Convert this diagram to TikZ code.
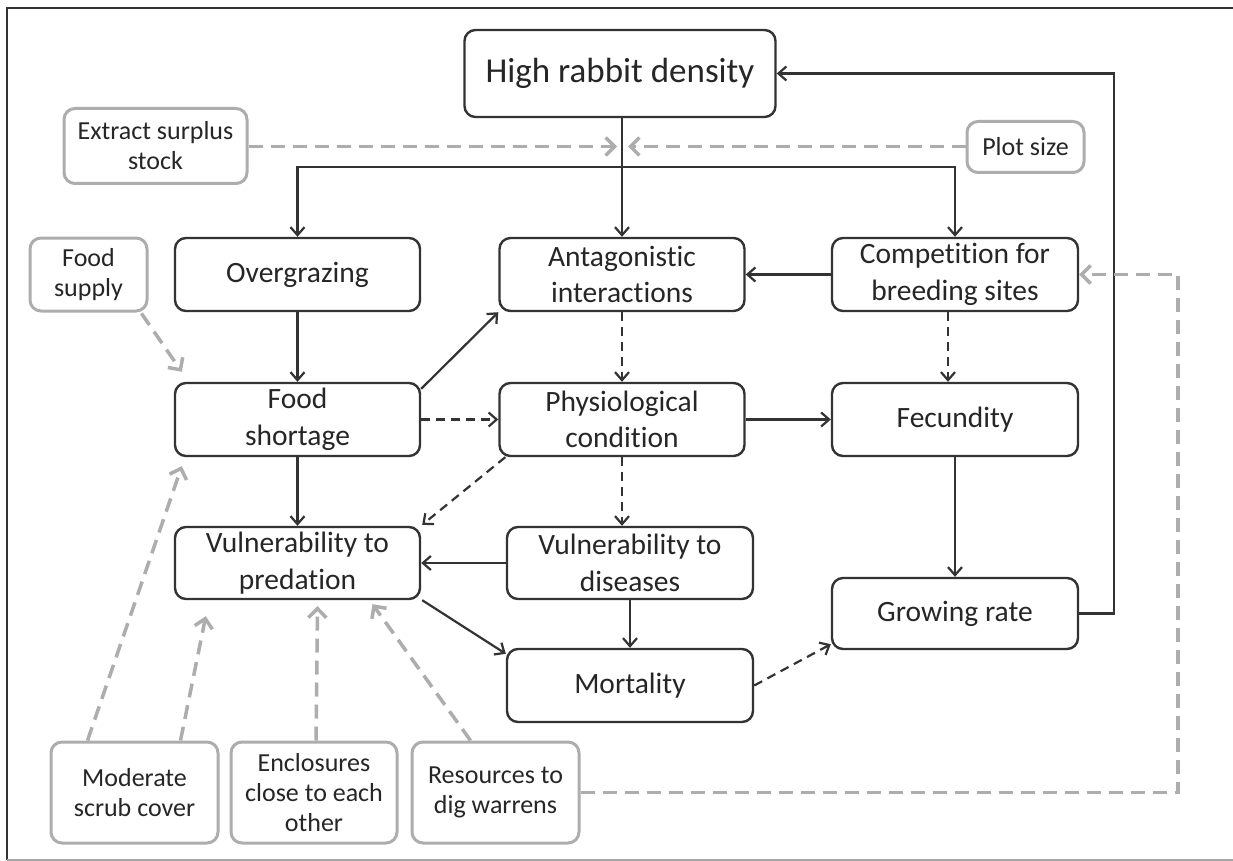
\documentclass[tikz,border=0pt]{standalone}
\usepackage{fontspec}
\setmainfont{Carlito}[Ligatures=NoCommon]
\usetikzlibrary{arrows.meta,calc}
\definecolor{dk}{HTML}{333333}
\definecolor{gr}{HTML}{ADADAD}
\definecolor{tx}{HTML}{262626}
\begin{document}
\begin{tikzpicture}[x=1pt,y=-1pt,
 bx/.style={draw=dk, line width=2.4pt, rounded corners=11pt, align=center, inner sep=0pt, text=tx, font=\fontsize{29.5}{36.5}\selectfont, minimum width=245pt, minimum height=73pt},
 gbx/.style={draw=gr, line width=3pt, rounded corners=11pt, align=center, inner sep=0pt, text=tx, font=\fontsize{26}{30}\selectfont},
 ln/.style={draw=dk, line width=2.2pt},
 ar/.style={ln, -{Straight Barb[length=8pt,width=14pt,line width=2.2pt]}},
 dar/.style={ar, dash pattern=on 9pt off 6pt},
 gar/.style={draw=gr, line width=3.5pt, dash pattern=on 14pt off 8pt, -{Straight Barb[length=9pt,width=18pt,line width=3.5pt]}},
]
\useasboundingbox (0,0) rectangle (1233,861);
\fill[white] (0,0) rectangle (1233,861);
\draw[dk, line width=2pt] (1233,8) -- (7,8) -- (7,860);
\draw[gray!70, line width=1.5pt] (7,860) -- (1233,860);

\node[bx, minimum width=311pt, minimum height=87pt, font=\fontsize{35}{42}\selectfont] (high) at (620,73.5) {High rabbit density};
\node[gbx, minimum width=183pt, minimum height=75pt] (extr) at (155.5,146) {Extract surplus\\stock};
\node[gbx, minimum width=117pt, minimum height=51pt] (plot) at (1025.5,147) {Plot size};
\node[bx] (over) at (297.5,274.5) {Overgrazing};
\node[bx] (antag) at (622,274.5) {Antagonistic\\interactions};
\node[bx, minimum width=246pt] (comp) at (955,274.5) {Competition for\\breeding sites};
\node[gbx, minimum width=117pt, minimum height=73pt] (fsup) at (88.5,274.5) {Food\\supply};
\node[bx] (food) at (297.5,419.5) {Food\\shortage};
\node[bx] (phys) at (622,419.5) {Physiological\\condition};
\node[bx, minimum width=246pt] (fec) at (955,419.5) {Fecundity};
\node[bx, minimum height=72pt] (vpred) at (297.5,563) {Vulnerability to\\predation};
\node[bx, minimum width=246pt, minimum height=72pt] (vdis) at (630,563) {Vulnerability to\\diseases};
\node[bx, minimum width=246pt] (mort) at (630,685.5) {Mortality};
\node[bx, minimum width=246pt, minimum height=71pt] (grow) at (955,613.5) {Growing rate};
\node[gbx, minimum width=167pt, minimum height=101pt] (mod) at (134.5,792.5) {Moderate\\scrub cover};
\node[gbx, minimum width=166pt, minimum height=101pt] (encl) at (314,792.5) {Enclosures\\close to each\\other};
\node[gbx, minimum width=167pt, minimum height=101pt] (res) at (495.5,792.5) {Resources to\\dig warrens};

% top distribution
\coordinate (j) at (622,167);
\draw[ln] (antag.north |- high.south) -- (j);
\draw[ar] (j) -- (antag.north);
\draw[ar] (j) -| (over.north);
\draw[ar] (j) -| (comp.north);
\coordinate (ea) at (617,146.5);
\coordinate (pa) at (628,146.5);
\draw[gar] (extr.east |- ea) -- (ea);
\draw[gar] (plot.west |- pa) -- (pa);

% feedback loop
\coordinate (lx) at (1114,0);
\draw[ar] (grow.east) -| (lx |- high.east) -- (high.east);

\draw[ar] (comp.west) -- (antag.east);
\draw[dar] (antag.south) -- (phys.north);
\draw[dar] ($(comp.south)+(-7,0)$) -- ($(fec.north)+(-7,0)$);
\draw[ar] (over.south) -- (food.north);
\draw[ar] ($(food.north east)+(0,7)$) -- (antag.south west);
\draw[dar] (food.east) -- (phys.west);
\draw[ar] (phys.east) -- (fec.west);
\draw[dar] (phys.south) -- (phys.south |- vdis.north);
\draw[dar] ($(phys.south west)+(7,0)$) -- ($(vpred.north east)+(1,-1)$);
\draw[ar] (food.south) -- (vpred.north);
\draw[ar] (vdis.west) -- (vpred.east);
\draw[ar] (vdis.south) -- (mort.north);
\draw[ar] ($(vpred.south east)+(1,0)$) -- ($(mort.north west)+(0,6)$);
\draw[dar] (mort.east) -- ($(grow.south west)+(0,-6)$);
\draw[ar] (fec.south) -- (grow.north);

% grey influences
\coordinate (gx) at (1178,0);
\draw[gar] (res.east) -| (gx |- comp.east) -- (comp.east);
\draw[gar] ($(fsup.south east)+(-7,1)$) -- ($(food.north west)+(8,-10)$);
\draw[gar] ($(mod.north west)+(38,0)$) -- ($(food.south west)+(8,9)$);
\draw[gar] ($(mod.north west)+(131,0)$) -- ($(vpred.south west)+(32,16)$);
\draw[gar] ($(encl.north)+(2,0)$) -- ($(vpred.south)+(20,6)$);
\draw[gar] ($(res.north)+(-25,0)$) -- ($(vpred.south)+(75,4)$);
\end{tikzpicture}
\end{document}
